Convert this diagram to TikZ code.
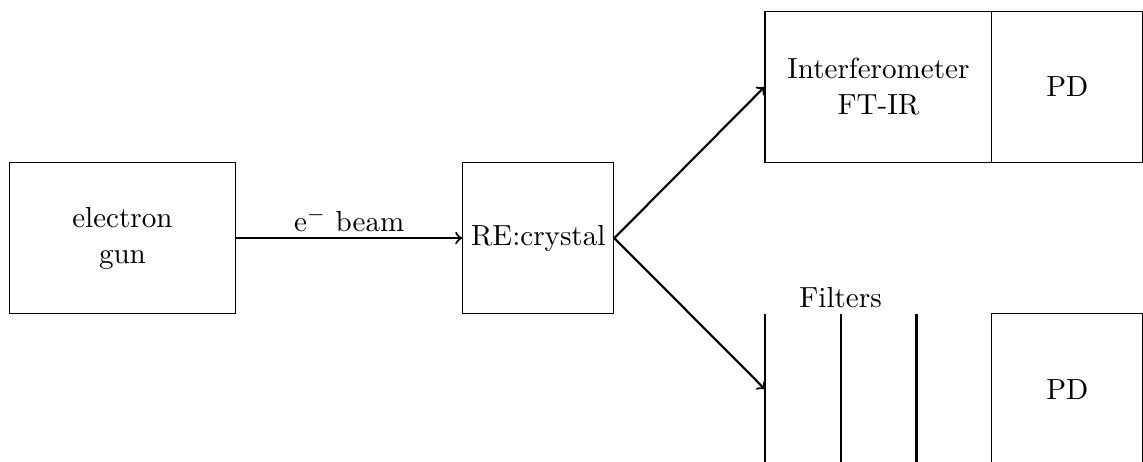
\documentclass[tikz,border=0pt]{standalone}
\begin{document}
\begin{tikzpicture}[
  font=\fontsize{10.95}{13.6}\selectfont,
  box/.style={draw, inner sep=0pt, align=center},
  beam/.style={->, thick},
  filter/.style={line cap=butt}
]
\useasboundingbox (-0.12,-1.95) rectangle (15.0,4.15);
\begin{scope}
\clip (-0.12,-1.95) rectangle (15.01,4.15);
% source and sample
\node[box, minimum width=3cm, minimum height=2cm] (gun) at (1.5,1) {electron\\gun};
\node[box, minimum width=2cm, minimum height=2cm] (crystal) at (7,1) {RE:crystal};
% upper branch: interferometer followed by a photodiode
\node[box, minimum width=3cm, minimum height=2cm] (ftir) at (11.5,3) {Interferometer\\FT-IR};
\node[box, minimum width=2cm, minimum height=2cm] (pdtop) at (14,3) {PD};
% lower branch: filter stack followed by a photodiode
\node[box, minimum width=2cm, minimum height=2cm] (pdbot) at (14,-1) {PD};
\coordinate (fa1) at (10,0);  \coordinate (fa2) at (10,-2);
\coordinate (fb1) at (11,0);  \coordinate (fb2) at (11,-2);
\coordinate (fc1) at (12,0);  \coordinate (fc2) at (12,-2);
\coordinate (fin) at (10,-1);
\draw[filter, thin] (fa1) -- (fa2);
\draw[filter, thick] (fb1) -- (fb2);
\draw[filter, very thick] (fc1) -- (fc2);
\node[anchor=south, inner sep=2pt] (flabel) at (fb1) {Filters};
% beams
\draw[beam] (gun.east) -- node[above, inner sep=2pt] {e$^-$ beam} (crystal.west);
\draw[beam] (crystal.east) -- (ftir.west);
\draw[beam] (crystal.east) -- (fin);
\end{scope}
\end{tikzpicture}
\end{document}
